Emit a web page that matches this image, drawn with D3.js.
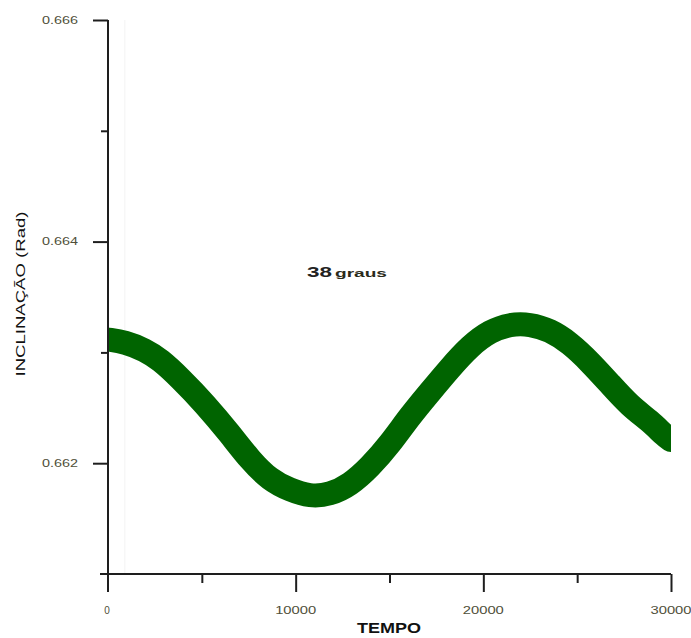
<!DOCTYPE html>
<html>
<head>
<meta charset="utf-8">
<script src="https://cdn.jsdelivr.net/npm/d3@7/dist/d3.min.js"></script>
<style>
  html, body { margin: 0; padding: 0; background: #ffffff; }
  svg { display: block; }
  text { font-family: "Liberation Sans", Arial, sans-serif; }
</style>
</head>
<body>
<svg id="chart" width="691" height="638"></svg>
<script>
// Tempo (passos) e inclinação (rad) ao longo da simulação
const tempo = [0, 906, 1972, 2771, 3837, 5169, 6501, 7567, 8632, 9698, 10764, 11830,
  12895, 13961, 15027, 16092, 17158, 18224, 19290, 20355, 21421, 22487, 23552,
  24618, 25684, 26750, 27815, 28881, 29680, 30000];
const inclinacao = [0.663116, 0.663094, 0.663022, 0.662936, 0.662769, 0.662534,
  0.662264, 0.662029, 0.661848, 0.661758, 0.661699, 0.661717, 0.661803, 0.661966,
  0.662173, 0.662426, 0.662643, 0.662859, 0.663058, 0.663193, 0.663256, 0.663256,
  0.663202, 0.663085, 0.662913, 0.662715, 0.662516, 0.662381, 0.662246, 0.662209];

const yMajor = [0.662, 0.664, 0.666];
const yMinor = [0.663, 0.665];
const xMajor = [0, 10000, 20000, 30000];
const xMinor = [5000, 15000, 25000];
const xLabels = ["0", "10000", "20000", "30000"];

const titulo = "38";
const tituloUnidade = "graus";
const eixoX = "TEMPO";
const eixoY = "INCLINAÇÃO (Rad)";

const svg = d3.select("#chart");
const x = d3.scaleLinear().domain([0, 30000]).range([108, 671]);
const y = d3.scaleLinear().domain([0.661, 0.666]).range([574, 20]);

const axisColor = "#1e1e1e";
const labelColor = "#50503a";

// faint frame line inside the plot area
svg.append("line")
  .attr("x1", x(900)).attr("x2", x(900))
  .attr("y1", y(0.666)).attr("y2", y(0.661))
  .attr("stroke", "#f3f3f3").attr("stroke-width", 1);

// data band
svg.append("clipPath").attr("id", "plotClip")
  .append("rect")
  .attr("x", x(0)).attr("y", 0)
  .attr("width", x(30000) - x(0)).attr("height", 638);

const data = tempo.map((t, i) => ({ t, v: inclinacao[i] }));
const line = d3.line()
  .x(d => x(d.t))
  .y(d => y(d.v))
  .curve(d3.curveBasis);

svg.append("path")
  .datum(data)
  .attr("clip-path", "url(#plotClip)")
  .attr("d", line)
  .attr("fill", "none")
  .attr("stroke", "#006400")
  .attr("stroke-width", 24)
  .attr("stroke-linecap", "round")
  .attr("stroke-linejoin", "round");

// Y axis
const gy = svg.append("g");
gy.append("g")
  .attr("transform", `translate(${x(0)},0)`)
  .call(d3.axisLeft(y).tickValues(yMajor).tickSize(15).tickSizeOuter(0).tickFormat(""))
  .call(g => g.select(".domain").remove());
gy.append("g")
  .attr("transform", `translate(${x(0)},0)`)
  .call(d3.axisLeft(y).tickValues(yMinor).tickSize(7).tickSizeOuter(0).tickFormat(""))
  .call(g => g.select(".domain").remove());
gy.selectAll("line").attr("stroke", axisColor).attr("stroke-width", 2);

gy.selectAll("text.ylab")
  .data(yMajor)
  .join("text")
  .attr("class", "ylab")
  .attr("x", 42)
  .attr("y", d => y(d) + 3.5)
  .attr("font-size", 10)
  .attr("fill", labelColor)
  .attr("textLength", 36)
  .attr("lengthAdjust", "spacingAndGlyphs")
  .text(d => d3.format(".3f")(d));

// X axis
const gx = svg.append("g");
gx.append("g")
  .attr("transform", `translate(0,${y(0.661)})`)
  .call(d3.axisBottom(x).tickValues(xMajor.filter(v => v !== 0)).tickSize(18).tickSizeOuter(0).tickFormat(""))
  .call(g => g.select(".domain").remove());
gx.append("g")
  .attr("transform", `translate(0,${y(0.661)})`)
  .call(d3.axisBottom(x).tickValues(xMinor).tickSize(9).tickSizeOuter(0).tickFormat(""))
  .call(g => g.select(".domain").remove());
gx.selectAll("line").attr("stroke", axisColor).attr("stroke-width", 2);

gx.selectAll("text.xlab")
  .data(xMajor)
  .join("text")
  .attr("class", "xlab")
  .attr("x", d => x(d) + (d === 0 ? -1 : 0))
  .attr("y", 614)
  .attr("text-anchor", "middle")
  .attr("font-size", 10)
  .attr("fill", labelColor)
  .each(function (d, i) {
    const t = d3.select(this).text(xLabels[i]);
    if (xLabels[i].length > 1) t.attr("textLength", 41).attr("lengthAdjust", "spacingAndGlyphs");
  });

// axis lines (extended past the origin like the frame corner)
svg.append("line")
  .attr("x1", x(0)).attr("x2", x(0))
  .attr("y1", y(0.666)).attr("y2", y(0.661) + 18)
  .attr("stroke", axisColor).attr("stroke-width", 2);
svg.append("line")
  .attr("x1", x(0) - 8).attr("x2", x(30000))
  .attr("y1", y(0.661)).attr("y2", y(0.661))
  .attr("stroke", axisColor).attr("stroke-width", 2);

// axis titles
svg.append("text")
  .attr("x", 389)
  .attr("y", 633)
  .attr("text-anchor", "middle")
  .attr("font-size", 15)
  .attr("font-weight", "bold")
  .attr("fill", "#111")
  .attr("textLength", 64)
  .attr("lengthAdjust", "spacingAndGlyphs")
  .text(eixoX);

svg.append("text")
  .attr("transform", "translate(25,294) rotate(-90)")
  .attr("text-anchor", "middle")
  .attr("font-size", 13)
  .attr("fill", "#111")
  .attr("textLength", 165)
  .attr("lengthAdjust", "spacingAndGlyphs")
  .text(eixoY);

// annotation
svg.append("text")
  .attr("x", 307).attr("y", 277)
  .attr("fill", "#222").attr("font-weight", "bold")
  .attr("font-size", 14)
  .attr("textLength", 25).attr("lengthAdjust", "spacingAndGlyphs")
  .text(titulo);
svg.append("text")
  .attr("x", 335).attr("y", 277)
  .attr("fill", "#2a2a1a").attr("font-weight", "bold")
  .attr("font-size", 11)
  .attr("textLength", 52).attr("lengthAdjust", "spacingAndGlyphs")
  .text(tituloUnidade);
</script>
</body>
</html>
